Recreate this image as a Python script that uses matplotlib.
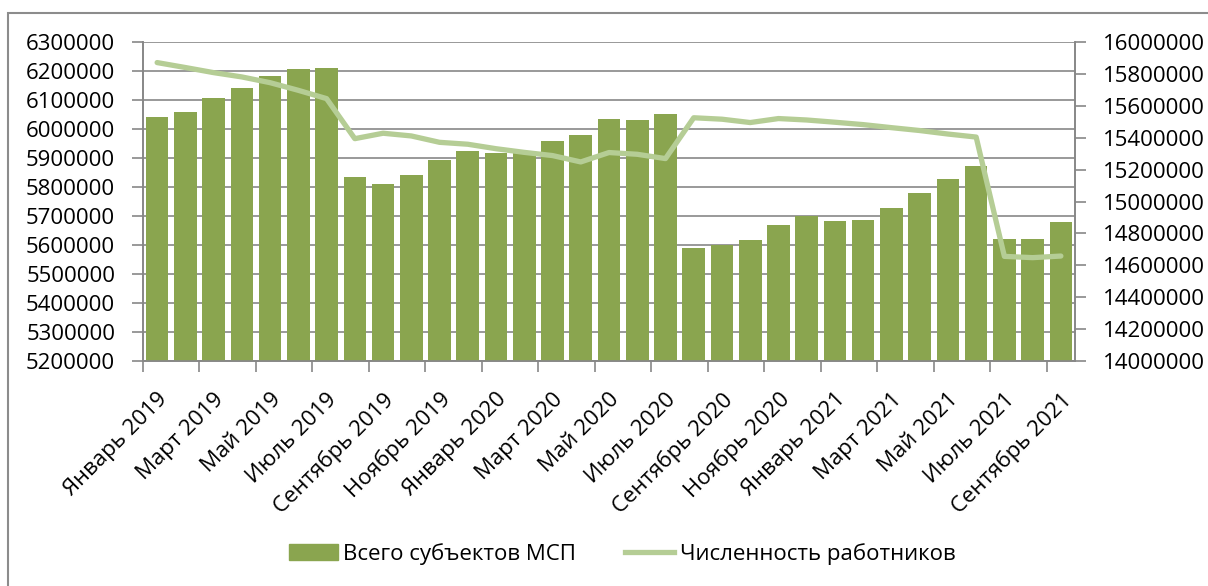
import matplotlib.pyplot as plt
import numpy as np
from matplotlib.patches import Rectangle
from matplotlib.lines import Line2D
from matplotlib.patches import Patch

plt.rcParams['font.family'] = ['Open Sans', 'DejaVu Sans']

# данные
months = ['Январь', 'Февраль', 'Март', 'Апрель', 'Май', 'Июнь',
          'Июль', 'Август', 'Сентябрь', 'Октябрь', 'Ноябрь', 'Декабрь']
years = [2019, 2020, 2021]
labels = [f'{m} {y}' for y in years for m in months][:33]

msp_total = [6040000, 6058000, 6107000, 6140000, 6184000, 6206000, 6212000,
             5836000, 5812000, 5840000, 5892000, 5923000, 5916000, 5922000,
             5960000, 5978000, 6033000, 6032000, 6051000, 5589000, 5601000,
             5618000, 5670000, 5701000, 5684000, 5687000, 5729000, 5779000,
             5829000, 5871000, 5622000, 5620000, 5678000]

workers = [15871000, 15840000, 15808000, 15781000, 15745000, 15697000, 15645000,
           15394000, 15428000, 15411000, 15371000, 15359000, 15331000, 15308000,
           15288000, 15248000, 15307000, 15296000, 15269000, 15525000, 15516000,
           15495000, 15520000, 15511000, 15497000, 15482000, 15463000, 15445000,
           15423000, 15404000, 14656000, 14648000, 14658000]

bar_color = '#8aa54f'
line_color = '#b5cd95'
grid_color = '#878787'

fig = plt.figure(figsize=(12.08, 5.86), dpi=100)
ax = fig.add_axes([143/1208, 1-361/586, (1075-143)/1208, (361-42)/586])

x = np.arange(len(labels))
ax.bar(x, msp_total, width=0.8, color=bar_color, zorder=3)
ax.set_xlim(-0.5, len(labels)-0.5)
ax.set_ylim(5200000, 6300000)
ax.set_yticks(np.arange(5200000, 6300001, 100000))
ax.ticklabel_format(axis='y', style='plain', useOffset=False)
ax.yaxis.grid(True, color=grid_color, linewidth=1.2, zorder=0)
ax.set_axisbelow(True)

# подписи оси X
ax.set_xticks(x[::2])
ax.set_xticklabels(labels[::2], rotation=45, ha='right', va='top',
                   rotation_mode='anchor')
ax.set_xticks(np.arange(-0.5, len(labels), 2), minor=True)
ax.tick_params(axis='x', which='major', length=0, pad=20, labelsize=16)
ax.tick_params(axis='x', which='minor', length=8, width=1.2, color=grid_color)
ax.tick_params(axis='y', length=8, width=1.2, color=grid_color, pad=12,
               labelsize=16)

for s in ['top']:
    ax.spines[s].set_visible(False)
for s in ['left', 'bottom', 'right']:
    ax.spines[s].set_color(grid_color)
    ax.spines[s].set_linewidth(1.2)

ax2 = ax.twinx()
ax2.plot(x, workers, color=line_color, linewidth=3.8, solid_capstyle='round',
         zorder=4)
ax2.set_ylim(14000000, 16000000)
ax2.set_yticks(np.arange(14000000, 16000001, 200000))
ax2.ticklabel_format(axis='y', style='plain', useOffset=False)
ax2.tick_params(axis='y', length=8, width=1.2, color=grid_color, pad=12,
                labelsize=16)
ax2.spines['top'].set_visible(False)
for s in ['left', 'bottom', 'right']:
    ax2.spines[s].set_color(grid_color)
    ax2.spines[s].set_linewidth(1.2)

# легенда
handles = [Patch(color=bar_color),
           Line2D([0], [0], color=line_color, linewidth=3.8)]
fig.legend(handles, ['Всего субъектов МСП', 'Численность работников'],
           loc='center', bbox_to_anchor=(622/1208, 1-554/586), ncol=2,
           frameon=False, fontsize=16, handlelength=2.2, handleheight=0.7,
           handletextpad=0.25, columnspacing=2.2)

# рамка области диаграммы
fig.patches.append(Rectangle((8/1208, -0.1), 1.2, 1-13/586+0.1,
                             transform=fig.transFigure, fill=False,
                             edgecolor='#8c8c8c', linewidth=1.5))

fig.savefig('out.png', dpi=100)
